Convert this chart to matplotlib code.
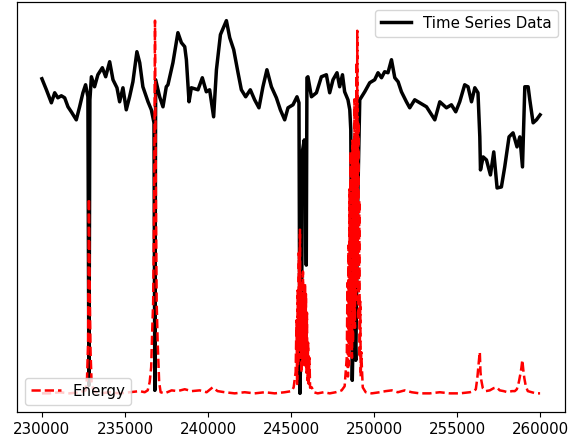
import matplotlib
matplotlib.use("Agg")
import matplotlib.pyplot as plt

plt.rcParams["font.size"] = 10.8

# raw time series (sample index, level)
ts_x = [230000, 230270, 230570, 230770, 230960, 231170, 231370, 231570, 231770, 232070,
        232270, 232470, 232630, 232770, 232830, 232890, 232980, 233170, 233370, 233640,
        233840, 234080, 234280, 234520, 234680, 234880, 235080, 235280, 235480, 235720,
        235890, 236080, 236390, 236590, 236750, 236800, 236850, 236990, 237090, 237290,
        237490, 237590, 237890, 238190, 238400, 238600, 238700, 238860, 239000, 239400,
        239660, 239900, 240100, 240340, 240510, 240750, 241110, 241310, 241550, 241810,
        242010, 242270, 242550, 242810, 243070, 243310, 243550, 243820, 244120, 244360,
        244620, 244820, 245120, 245360, 245480, 245540, 245640, 245700, 245800, 245860,
        245920, 245960, 246020, 246230, 246530, 246830, 247130, 247330, 247530, 247770,
        247930, 248100, 248230, 248430, 248540, 248600, 248690, 248780, 248900, 249020,
        249140, 249440, 249740, 250040, 250240, 250450, 250640, 250840, 251050, 251250,
        251450, 251650, 251950, 252150, 252450, 252750, 253160, 253660, 253960, 254360,
        254660, 254920, 255160, 255460, 255660, 255870, 256070, 256260, 256370, 256410,
        256570, 256770, 257010, 257210, 257410, 257670, 257870, 258130, 258370, 258610,
        258780, 258940, 259080, 259280, 259380, 259580, 259780, 260000]
ts_y = [32.1, 31.0, 29.7, 30.7, 30.2, 30.4, 30.2, 29.3, 28.8, 28.0,
        29.3, 30.7, 31.5, 30.3, 1.5, 30.0, 32.3, 31.3, 32.5, 33.2,
        32.3, 33.8, 32.0, 31.2, 29.8, 31.2, 29.0, 30.3, 31.8, 34.8,
        33.7, 31.3, 29.8, 29.0, 27.7, 1.0, 32.0, 31.0, 30.3, 29.3,
        31.3, 31.5, 33.7, 36.7, 35.7, 35.3, 34.0, 29.8, 31.2, 31.0,
        32.2, 30.8, 31.0, 28.3, 33.0, 36.5, 37.9, 36.2, 35.0, 32.7,
        31.0, 30.3, 31.0, 30.0, 29.2, 31.3, 33.0, 31.3, 30.2, 29.0,
        28.0, 29.2, 29.5, 30.3, 29.7, 0.7, 10.0, 25.0, 26.0, 24.5,
        13.5, 32.2, 32.3, 30.3, 30.7, 32.3, 32.5, 30.7, 32.0, 32.7,
        31.3, 32.5, 30.8, 30.0, 29.0, 27.0, 2.0, 10.0, 4.0, 20.0,
        30.0, 30.8, 31.7, 32.0, 32.7, 32.2, 32.8, 32.7, 34.0, 32.2,
        31.8, 30.8, 29.8, 29.2, 30.0, 29.7, 29.3, 28.0, 29.8, 29.2,
        29.5, 28.8, 29.8, 31.5, 31.3, 29.8, 31.2, 30.7, 26.3, 23.0,
        24.3, 24.0, 22.5, 24.8, 21.2, 21.3, 23.3, 26.3, 26.7, 25.3,
        26.3, 23.3, 31.3, 31.3, 30.0, 27.7, 28.0, 28.5]

# windowed energy of the same signal
en_x = [230000, 230460, 231070, 231670, 232270, 232510, 232630, 232720, 232780, 232830,
        232890, 232930, 232990, 233110, 233480, 234080, 234680, 235280, 235890, 236190,
        236370, 236490, 236580, 236640, 236700, 236760, 236810, 236850, 236910, 236970,
        237060, 237150, 237390, 237810, 238170, 238600, 239020, 239500, 239920, 240280,
        240580, 241010, 241610, 242210, 242810, 243420, 244020, 244620, 245040, 245160,
        245280, 245330, 245370, 245400, 245430, 245470, 245500, 245540, 245570, 245600,
        245630, 245660, 245690, 245720, 245750, 245780, 245810, 245840, 245870, 245900,
        245930, 245960, 245990, 246030, 246070, 246110, 246150, 246250, 246370, 246610,
        246970, 247330, 247690, 247930, 248050, 248230, 248360, 248400, 248430, 248460,
        248490, 248520, 248550, 248580, 248610, 248640, 248670, 248700, 248730, 248760,
        248790, 248820, 248850, 248880, 248910, 248940, 248970, 248990, 249020, 249050,
        249080, 249110, 249140, 249170, 249200, 249230, 249320, 249500, 249860, 250340,
        250710, 251070, 251430, 251850, 252270, 252750, 253360, 253960, 254560, 255160,
        255770, 256010, 256130, 256220, 256280, 256330, 256370, 256410, 256460, 256550,
        256730, 256970, 257210, 257390, 257570, 257810, 258050, 258300, 258480, 258600,
        258720, 258810, 258870, 258930, 258990, 259050, 259140, 259260, 259500, 259740,
        260000]
en_y = [0.5, 0.5, 0.8, 0.5, 0.8, 1.1, 1.3, 4.8, 14.2, 52.5,
        24.9, 11.5, 3.5, 1.1, 0.5, 0.8, 0.5, 0.8, 1.1, 0.8,
        1.3, 3.5, 7.5, 16.9, 24.9, 51.7, 100.0, 65.1, 24.9, 14.2,
        3.5, 0.8, 0.5, 1.3, 1.1, 1.6, 1.1, 1.3, 0.8, 2.1,
        1.1, 0.8, 0.5, 0.8, 0.5, 0.8, 0.5, 0.8, 1.1, 2.1,
        6.2, 20.0, 3.0, 28.0, 8.0, 38.0, 12.0, 44.2, 10.0, 30.0,
        6.0, 25.0, 9.0, 33.0, 12.0, 28.0, 8.0, 30.0, 11.0, 27.0,
        6.0, 22.0, 4.0, 14.0, 3.0, 10.0, 2.0, 2.1, 0.8, 0.5,
        0.8, 0.5, 0.8, 1.1, 1.3, 2.4, 10.2, 30.0, 5.0, 40.0,
        8.0, 55.0, 12.0, 65.0, 15.0, 45.0, 10.0, 68.0, 14.0, 57.0,
        20.0, 79.0, 18.0, 68.0, 25.0, 89.0, 30.0, 97.3, 35.0, 73.0,
        20.0, 52.0, 10.0, 25.0, 5.0, 11.5, 2.1, 0.8, 0.5, 0.8,
        1.1, 1.3, 0.8, 1.3, 0.8, 0.5, 0.5, 0.8, 0.5, 0.5,
        0.8, 1.1, 1.6, 4.6, 7.5, 9.9, 11.5, 6.2, 4.0, 1.9,
        1.1, 1.3, 1.9, 2.1, 1.3, 1.1, 0.8, 1.1, 1.1, 1.6,
        3.5, 5.6, 7.2, 9.4, 6.7, 4.6, 2.4, 1.1, 0.8, 0.5,
        0.5]

fig = plt.figure(figsize=(5.82, 4.4), dpi=100)
ax = fig.add_axes([17 / 582, 28 / 440, 548 / 582, 410 / 440])
ax.plot(ts_x, ts_y, color="black", linewidth=2.5, label="Time Series Data")
ax.set_yticks([])
ax.legend(loc="upper right")

ax2 = ax.twinx()
ax2.plot(en_x, en_y, color="red", linestyle="--", linewidth=1.8, label="Energy")
ax2.set_yticks([])
ax2.legend(loc="lower left")

ax.set_xticks([230000, 235000, 240000, 245000, 250000, 255000, 260000])

fig.savefig("out.png", dpi=100)
